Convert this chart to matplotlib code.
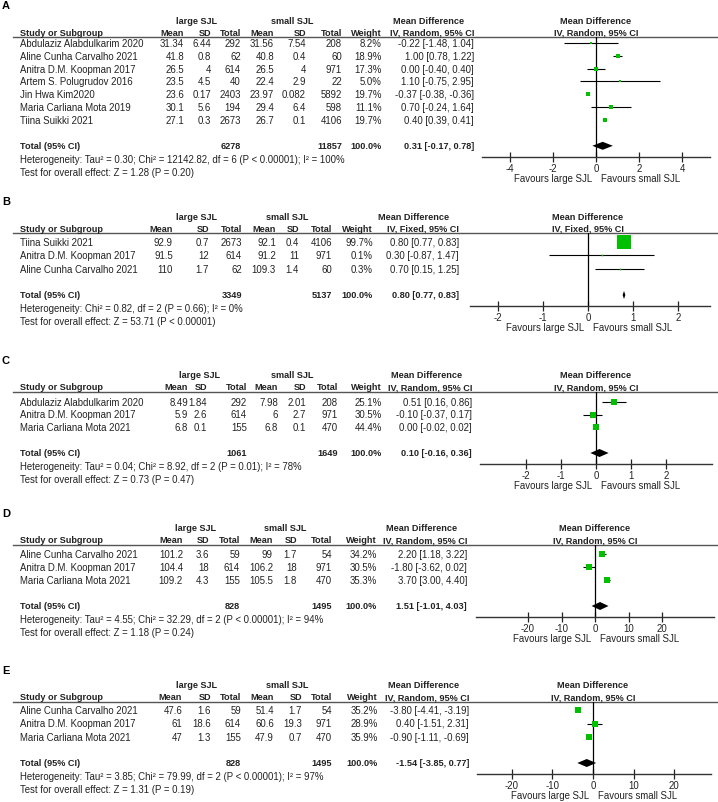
#!/usr/bin/env python3

import matplotlib
matplotlib.use("Agg")
import matplotlib.pyplot as plt


FIGURE_WIDTH_PX = 718
FIGURE_HEIGHT_PX = 803
FIGURE_DPI = 100
TEXT_COLOR = "#222222"
BOX_COLOR = "#00c000"
FONT_SIZE = 6.9
BOLD_SIZE = 6.6

plt.rcParams["font.family"] = ["Liberation Sans", "DejaVu Sans"]

# ---- panel A ----
A_STUDIES = ["Abdulaziz Alabdulkarim 2020", "Aline Cunha Carvalho 2021", "Anitra D.M. Koopman 2017",
             "Artem S. Polugrudov 2016", "Jin Hwa Kim2020", "Maria Carliana Mota 2019", "Tiina Suikki 2021"]
A_LARGE_MEAN = ["31.34", "41.8", "26.5", "23.5", "23.6", "30.1", "27.1"]
A_LARGE_SD = ["6.44", "0.8", "4", "4.5", "0.17", "5.6", "0.3"]
A_LARGE_N = ["292", "62", "614", "40", "2403", "194", "2673"]
A_SMALL_MEAN = ["31.56", "40.8", "26.5", "22.4", "23.97", "29.4", "26.7"]
A_SMALL_SD = ["7.54", "0.4", "4", "2.9", "0.082", "6.4", "0.1"]
A_SMALL_N = ["208", "60", "971", "22", "5892", "598", "4106"]
A_WEIGHT = [8.2, 18.9, 17.3, 5.0, 19.7, 11.1, 19.7]
A_MD = [-0.22, 1.00, 0.00, 1.10, -0.37, 0.70, 0.40]
A_LOW = [-1.48, 0.78, -0.40, -0.75, -0.38, -0.24, 0.39]
A_HIGH = [1.04, 1.22, 0.40, 2.95, -0.36, 1.64, 0.41]
A_TOTALS = ["6278", "11857"]
A_POOLED = [0.31, -0.17, 0.78]
A_HET = "Heterogeneity: Tau² = 0.30; Chi² = 12142.82, df = 6 (P < 0.00001); I² = 100%"
A_TEST = "Test for overall effect: Z = 1.28 (P = 0.20)"
A_TICKS = [-4, -2, 0, 2, 4]

# ---- panel B ----
B_STUDIES = ["Tiina Suikki 2021", "Anitra D.M. Koopman 2017", "Aline Cunha Carvalho 2021"]
B_LARGE_MEAN = ["92.9", "91.5", "110"]
B_LARGE_SD = ["0.7", "12", "1.7"]
B_LARGE_N = ["2673", "614", "62"]
B_SMALL_MEAN = ["92.1", "91.2", "109.3"]
B_SMALL_SD = ["0.4", "11", "1.4"]
B_SMALL_N = ["4106", "971", "60"]
B_WEIGHT = [99.7, 0.1, 0.3]
B_MD = [0.80, 0.30, 0.70]
B_LOW = [0.77, -0.87, 0.15]
B_HIGH = [0.83, 1.47, 1.25]
B_TOTALS = ["3349", "5137"]
B_POOLED = [0.80, 0.77, 0.83]
B_HET = "Heterogeneity: Chi² = 0.82, df = 2 (P = 0.66); I² = 0%"
B_TEST = "Test for overall effect: Z = 53.71 (P < 0.00001)"
B_TICKS = [-2, -1, 0, 1, 2]

# ---- panel C ----
C_STUDIES = ["Abdulaziz Alabdulkarim 2020", "Anitra D.M. Koopman 2017", "Maria Carliana Mota 2021"]
C_LARGE_MEAN = ["8.49", "5.9", "6.8"]
C_LARGE_SD = ["1.84", "2.6", "0.1"]
C_LARGE_N = ["292", "614", "155"]
C_SMALL_MEAN = ["7.98", "6", "6.8"]
C_SMALL_SD = ["2.01", "2.7", "0.1"]
C_SMALL_N = ["208", "971", "470"]
C_WEIGHT = [25.1, 30.5, 44.4]
C_MD = [0.51, -0.10, 0.00]
C_LOW = [0.16, -0.37, -0.02]
C_HIGH = [0.86, 0.17, 0.02]
C_TOTALS = ["1061", "1649"]
C_POOLED = [0.10, -0.16, 0.36]
C_HET = "Heterogeneity: Tau² = 0.04; Chi² = 8.92, df = 2 (P = 0.01); I² = 78%"
C_TEST = "Test for overall effect: Z = 0.73 (P = 0.47)"
C_TICKS = [-2, -1, 0, 1, 2]

# ---- panel D ----
D_STUDIES = ["Aline Cunha Carvalho 2021", "Anitra D.M. Koopman 2017", "Maria Carliana Mota 2021"]
D_LARGE_MEAN = ["101.2", "104.4", "109.2"]
D_LARGE_SD = ["3.6", "18", "4.3"]
D_LARGE_N = ["59", "614", "155"]
D_SMALL_MEAN = ["99", "106.2", "105.5"]
D_SMALL_SD = ["1.7", "18", "1.8"]
D_SMALL_N = ["54", "971", "470"]
D_WEIGHT = [34.2, 30.5, 35.3]
D_MD = [2.20, -1.80, 3.70]
D_LOW = [1.18, -3.62, 3.00]
D_HIGH = [3.22, 0.02, 4.40]
D_TOTALS = ["828", "1495"]
D_POOLED = [1.51, -1.01, 4.03]
D_HET = "Heterogeneity: Tau² = 4.55; Chi² = 32.29, df = 2 (P < 0.00001); I² = 94%"
D_TEST = "Test for overall effect: Z = 1.18 (P = 0.24)"
D_TICKS = [-20, -10, 0, 10, 20]

# ---- panel E ----
E_STUDIES = ["Aline Cunha Carvalho 2021", "Anitra D.M. Koopman 2017", "Maria Carliana Mota 2021"]
E_LARGE_MEAN = ["47.6", "61", "47"]
E_LARGE_SD = ["1.6", "18.6", "1.3"]
E_LARGE_N = ["59", "614", "155"]
E_SMALL_MEAN = ["51.4", "60.6", "47.9"]
E_SMALL_SD = ["1.7", "19.3", "0.7"]
E_SMALL_N = ["54", "971", "470"]
E_WEIGHT = [35.2, 28.9, 35.9]
E_MD = [-3.80, 0.40, -0.90]
E_LOW = [-4.41, -1.51, -1.11]
E_HIGH = [-3.19, 2.31, -0.69]
E_TOTALS = ["828", "1495"]
E_POOLED = [-1.54, -3.85, 0.77]
E_HET = "Heterogeneity: Tau² = 3.85; Chi² = 79.99, df = 2 (P < 0.00001); I² = 97%"
E_TEST = "Test for overall effect: Z = 1.31 (P = 0.19)"
E_TICKS = [-20, -10, 0, 10, 20]


def draw_panel(fig, canvas, letter, method, data, layout):
    (studies, m1, sd1, n1, m2, sd2, n2, weight, md, low, high,
     totals, pooled, het, test, ticks) = data
    line_y = layout["line_y"]
    step = layout["step"]
    cols = layout["cols"]
    zero_px = layout["zero_px"]
    ppu = layout["ppu"]
    left_px, right_px = layout["axis"]

    row_ys = [line_y + layout["first"] + i * step for i in range(len(studies))]
    total_y = row_ys[-1] + 26
    axis_y = total_y + 11

    text_kw = dict(fontsize=FONT_SIZE, color=TEXT_COLOR, va="center")
    bold_kw = dict(fontsize=BOLD_SIZE, color=TEXT_COLOR, va="center", fontweight="bold")

    canvas.text(2, line_y - 32, letter, fontsize=8, fontweight="bold", color="black", va="center")
    canvas.text(cols["large"], line_y - 17, "large SJL", ha="center", **bold_kw)
    canvas.text(cols["small"], line_y - 17, "small SJL", ha="center", **bold_kw)
    canvas.text(cols["ci"] - 45, line_y - 17, "Mean Difference", ha="center", **bold_kw)
    canvas.text(zero_px, line_y - 17, "Mean Difference", ha="center", **bold_kw)

    hdr_y = line_y - 5
    canvas.text(20, hdr_y, "Study or Subgroup", ha="left", **bold_kw)
    for key, label in [("m1", "Mean"), ("sd1", "SD"), ("n1", "Total"), ("m2", "Mean"),
                       ("sd2", "SD"), ("n2", "Total"), ("w", "Weight")]:
        canvas.text(cols[key], hdr_y, label, ha="right", **bold_kw)
    canvas.text(cols["ci"], hdr_y, f"IV, {method}, 95% CI", ha="right", **bold_kw)
    canvas.text(zero_px, hdr_y, f"IV, {method}, 95% CI", ha="center", **bold_kw)
    canvas.plot([13, 718], [line_y, line_y], color="#555555", lw=1.0)

    for i, y in enumerate(row_ys):
        canvas.text(20, y, studies[i], ha="left", **text_kw)
        for key, column in [("m1", m1), ("sd1", sd1), ("n1", n1), ("m2", m2), ("sd2", sd2), ("n2", n2)]:
            canvas.text(cols[key], y, column[i], ha="right", **text_kw)
        canvas.text(cols["w"], y, f"{weight[i]:.1f}%", ha="right", **text_kw)
        canvas.text(cols["ci"], y, f"{md[i]:.2f} [{low[i]:.2f}, {high[i]:.2f}]", ha="right", **text_kw)

    canvas.text(20, total_y, "Total (95% CI)", ha="left", **bold_kw)
    canvas.text(cols["n1"], total_y, totals[0], ha="right", **bold_kw)
    canvas.text(cols["n2"], total_y, totals[1], ha="right", **bold_kw)
    canvas.text(cols["w"], total_y, "100.0%", ha="right", **bold_kw)
    canvas.text(cols["ci"], total_y, f"{pooled[0]:.2f} [{pooled[1]:.2f}, {pooled[2]:.2f}]", ha="right", **bold_kw)
    canvas.text(20, total_y + 13, het, ha="left", **text_kw)
    canvas.text(20, total_y + 26, test, ha="left", **text_kw)

    canvas.text(zero_px - 4, axis_y + 21, "Favours large SJL", ha="right", **text_kw)
    canvas.text(zero_px + 5, axis_y + 21, "Favours small SJL", ha="left", **text_kw)

    # forest plot axes, y in pixel rows, x in mean-difference units
    ax = fig.add_axes([
        left_px / FIGURE_WIDTH_PX,
        1 - axis_y / FIGURE_HEIGHT_PX,
        (right_px - left_px) / FIGURE_WIDTH_PX,
        (axis_y - line_y) / FIGURE_HEIGHT_PX,
    ])
    ax.set_xlim(-(zero_px - left_px) / ppu, (right_px - zero_px) / ppu)
    ax.set_ylim(axis_y, line_y)
    ax.patch.set_alpha(0)
    for side in ["top", "left", "right"]:
        ax.spines[side].set_visible(False)
    ax.spines["bottom"].set_linewidth(1.0)
    ax.spines["bottom"].set_color("#333333")
    ax.set_yticks([])
    ax.set_xticks(ticks)
    ax.set_xticklabels([str(t) for t in ticks])
    ax.tick_params(axis="x", direction="inout", length=7, width=0.9, pad=1,
                   labelsize=FONT_SIZE, colors=TEXT_COLOR)
    ax.axvline(0, color="black", lw=0.9)

    for i, y in enumerate(row_ys):
        ax.hlines(y, low[i], high[i], color="black", lw=0.8)
        side = max(1.6, layout["box"] * weight[i] ** 0.5)
        ax.plot(md[i], y, marker="s", markersize=side * 72 / FIGURE_DPI,
                color=BOX_COLOR, markeredgewidth=0, zorder=3)

    h = 4
    ax.fill([pooled[1], pooled[0], pooled[2], pooled[0]],
            [total_y, total_y - h, total_y, total_y + h], color="black", lw=0, zorder=3)


def main() -> None:
    fig = plt.figure(figsize=(FIGURE_WIDTH_PX / FIGURE_DPI, FIGURE_HEIGHT_PX / FIGURE_DPI), dpi=FIGURE_DPI)
    canvas = fig.add_axes([0, 0, 1, 1])
    canvas.set_xlim(0, FIGURE_WIDTH_PX)
    canvas.set_ylim(FIGURE_HEIGHT_PX, 0)
    canvas.axis("off")

    panels = [
        ("A", "Random",
         (A_STUDIES, A_LARGE_MEAN, A_LARGE_SD, A_LARGE_N, A_SMALL_MEAN, A_SMALL_SD, A_SMALL_N,
          A_WEIGHT, A_MD, A_LOW, A_HIGH, A_TOTALS, A_POOLED, A_HET, A_TEST, A_TICKS),
         dict(line_y=38, first=6, step=12.8, zero_px=596, ppu=21.6, axis=(482, 710), box=0.95,
              cols=dict(m1=184, sd1=211, n1=241, m2=274, sd2=306, n2=342, w=382, ci=474,
                        large=197, small=292))),
        ("B", "Fixed",
         (B_STUDIES, B_LARGE_MEAN, B_LARGE_SD, B_LARGE_N, B_SMALL_MEAN, B_SMALL_SD, B_SMALL_N,
          B_WEIGHT, B_MD, B_LOW, B_HIGH, B_TOTALS, B_POOLED, B_HET, B_TEST, B_TICKS),
         dict(line_y=234, first=9, step=13.5, zero_px=588, ppu=45, axis=(470, 710), box=1.5,
              cols=dict(m1=173, sd1=209, n1=242, m2=276, sd2=299, n2=332, w=373, ci=459,
                        large=197, small=287))),
        ("C", "Random",
         (C_STUDIES, C_LARGE_MEAN, C_LARGE_SD, C_LARGE_N, C_SMALL_MEAN, C_SMALL_SD, C_SMALL_N,
          C_WEIGHT, C_MD, C_LOW, C_HIGH, C_TOTALS, C_POOLED, C_HET, C_TEST, C_TICKS),
         dict(line_y=393, first=10, step=12.5, zero_px=596, ppu=35, axis=(480, 712), box=1.05,
              cols=dict(m1=188, sd1=207, n1=247, m2=278, sd2=306, n2=338, w=382, ci=472,
                        large=200, small=292))),
        ("D", "Random",
         (D_STUDIES, D_LARGE_MEAN, D_LARGE_SD, D_LARGE_N, D_SMALL_MEAN, D_SMALL_SD, D_SMALL_N,
          D_WEIGHT, D_MD, D_LOW, D_HIGH, D_TOTALS, D_POOLED, D_HET, D_TEST, D_TICKS),
         dict(line_y=546, first=9, step=13, zero_px=595, ppu=3.35, axis=(476, 714), box=1.0,
              cols=dict(m1=183, sd1=209, n1=240, m2=273, sd2=297, n2=332, w=377, ci=467,
                        large=196, small=285))),
        ("E", "Random",
         (E_STUDIES, E_LARGE_MEAN, E_LARGE_SD, E_LARGE_N, E_SMALL_MEAN, E_SMALL_SD, E_SMALL_N,
          E_WEIGHT, E_MD, E_LOW, E_HIGH, E_TOTALS, E_POOLED, E_HET, E_TEST, E_TICKS),
         dict(line_y=703, first=8, step=13.5, zero_px=593, ppu=4.07, axis=(477, 711), box=1.0,
              cols=dict(m1=182, sd1=211, n1=241, m2=274, sd2=302, n2=332, w=378, ci=469,
                        large=197, small=287))),
    ]
    for letter, method, data, layout in panels:
        draw_panel(fig, canvas, letter, method, data, layout)

    fig.savefig("out.png", dpi=FIGURE_DPI)


if __name__ == "__main__":
    main()
